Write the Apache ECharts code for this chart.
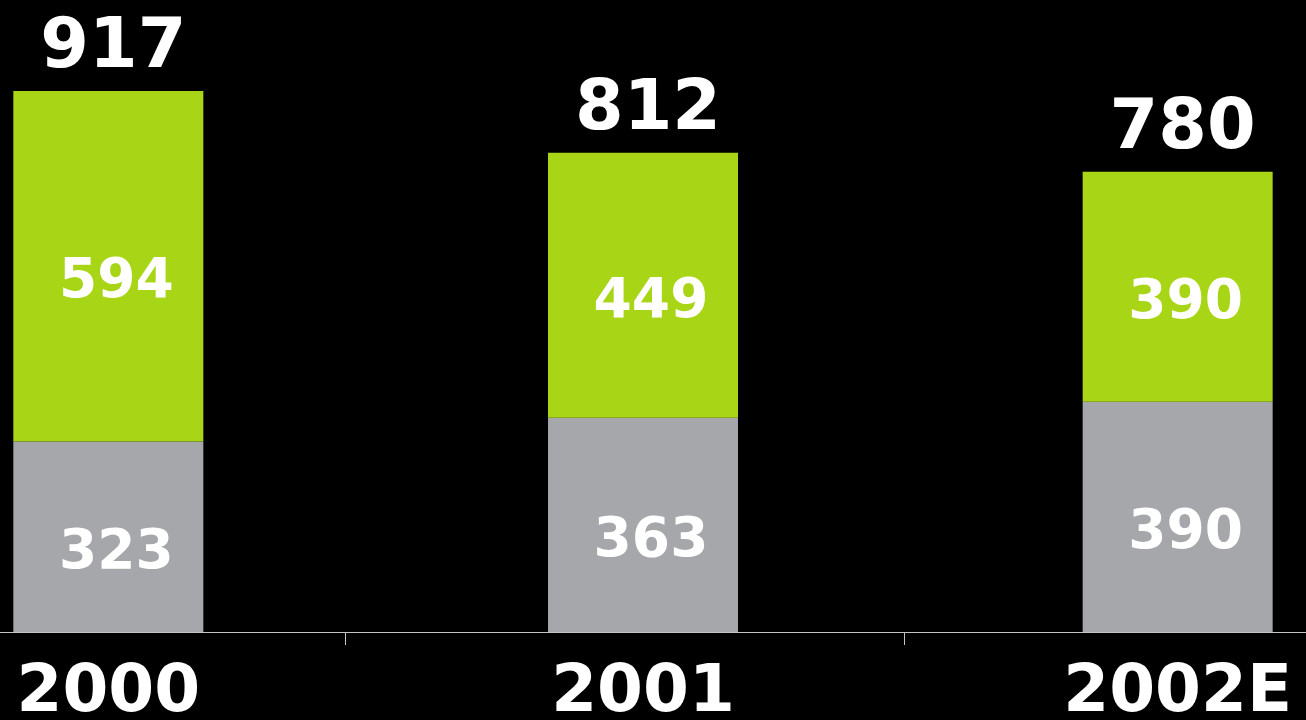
<!DOCTYPE html>
<html>
<head>
<meta charset="utf-8">
<style>
  html, body { margin: 0; padding: 0; background: #000; }
  #chart { width: 1306px; height: 720px; }
</style>
<script src="https://cdn.jsdelivr.net/npm/echarts@6/dist/echarts.min.js"></script>
</head>
<body>
<div id="chart"></div>
<script>
var years = ["2000", "2001", "2002E"];
var baseValues = [323, 363, 390];
var topValues = [594, 449, 390];
var totals = [917, 812, 780];

var chart = echarts.init(document.getElementById("chart"));
var font = "DejaVu Sans";

chart.setOption({
  backgroundColor: "#000",
  animation: false,
  grid: [
    { left: -159, right: -139, top: 0, bottom: 88, containLabel: false, outerBoundsMode: "none" },
    { left: -214, right: -157, top: 0, bottom: 88, containLabel: false, outerBoundsMode: "none" }
  ],
  xAxis: [
    {
      type: "category",
      data: years,
      gridIndex: 0,
      axisLine: { lineStyle: { color: "#c4c4c4", width: 1 } },
      axisTick: { show: false },
      axisLabel: {
        color: "#fff",
        fontFamily: font,
        fontWeight: "bold",
        fontSize: 66,
        margin: 29
      }
    },
    {
      // only carries the two small tick marks under the axis line
      type: "category",
      data: years,
      gridIndex: 1,
      axisLine: { show: false },
      axisLabel: { show: false },
      axisTick: { show: true, length: 13, lineStyle: { color: "#c4c4c4", width: 1 } }
    }
  ],
  yAxis: [
    { type: "value", gridIndex: 0, min: 0, max: 1071, show: false },
    { type: "value", gridIndex: 1, show: false }
  ],
  series: [
    {
      type: "bar",
      stack: "total",
      data: baseValues,
      barWidth: 190,
      itemStyle: { color: "#a6a7ab" },
      label: {
        show: true,
        position: "inside",
        offset: [8, 17],
        color: "#fff",
        fontFamily: font,
        fontWeight: "bold",
        fontSize: 55
      }
    },
    {
      type: "bar",
      stack: "total",
      data: topValues,
      barWidth: 190,
      itemStyle: { color: "#a8d515" },
      label: {
        show: true,
        position: "inside",
        offset: [8, 17],
        color: "#fff",
        fontFamily: font,
        fontWeight: "bold",
        fontSize: 55
      }
    },
    {
      type: "bar",
      stack: "total",
      data: totals.map(function () { return 0; }),
      barWidth: 190,
      itemStyle: { color: "transparent" },
      label: {
        show: true,
        position: "top",
        distance: 7,
        offset: [5, 0],
        color: "#fff",
        fontFamily: font,
        fontWeight: "bold",
        fontSize: 70,
        formatter: function (p) { return totals[p.dataIndex]; }
      }
    }
  ]
});
</script>
</body>
</html>
